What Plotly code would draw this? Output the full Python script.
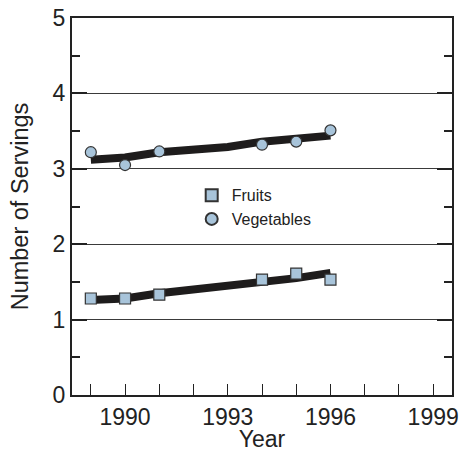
import plotly.graph_objects as go

years_pts = [1989, 1990, 1991, 1994, 1995, 1996]
fruits_pts = [1.28, 1.28, 1.33, 1.53, 1.61, 1.53]
veg_pts = [3.22, 3.05, 3.23, 3.32, 3.36, 3.51]

years_line = [1989, 1990, 1991, 1993, 1994, 1995, 1996]
fruits_line = [1.26, 1.28, 1.35, 1.44, 1.51, 1.55, 1.62]
veg_line = [3.12, 3.15, 3.22, 3.29, 3.36, 3.39, 3.44]

x_ticks = [1990, 1993, 1996, 1999]

FONT = "Liberation Sans, Arial, sans-serif"
FILL = "#a8c4da"
EDGE = "#333333"
LINE = "#1e1c1c"

fig = go.Figure()
fig.add_trace(go.Scatter(x=years_line, y=fruits_line, mode="lines",
                         line=dict(color=LINE, width=8), showlegend=False, hoverinfo="skip"))
fig.add_trace(go.Scatter(x=years_line, y=veg_line, mode="lines",
                         line=dict(color=LINE, width=8), showlegend=False, hoverinfo="skip"))
fig.add_trace(go.Scatter(x=years_pts, y=fruits_pts, mode="markers", name="Fruits",
                         marker=dict(symbol="square", size=11, color=FILL,
                                     line=dict(color=EDGE, width=1.2))))
fig.add_trace(go.Scatter(x=years_pts, y=veg_pts, mode="markers", name="Vegetables",
                         marker=dict(symbol="circle", size=11, color=FILL,
                                     line=dict(color=EDGE, width=1.2))))

fig.update_layout(
    width=460, height=452,
    margin=dict(l=72, r=8, t=18, b=57, autoexpand=False),
    paper_bgcolor="white", plot_bgcolor="white",
    font=dict(family=FONT, color="#222222", size=23),
    legend=dict(x=0.315, y=0.575, xanchor="left", yanchor="top",
                font=dict(size=16, family=FONT, color="#222222"),
                bgcolor="rgba(0,0,0,0)", itemsizing="constant",
                tracegroupgap=0),
    xaxis=dict(
        automargin=False, ticklabeloverflow="allow",
        range=[1988.45, 1999.55], tickmode="array", tickvals=x_ticks,
        ticktext=[str(v) for v in x_ticks],
        ticks="inside", ticklen=11, tickwidth=1, tickcolor="#222",
        minor=dict(dtick=1, tick0=1990, ticks="inside", ticklen=11, tickcolor="#222", showgrid=False),
        showline=True, linecolor="#222", linewidth=2, mirror=True,
        showgrid=False, zeroline=False,
        title=dict(text="Year", font=dict(size=23), standoff=0),
        tickfont=dict(size=23),
    ),
    yaxis=dict(
        automargin=False, ticklabeloverflow="allow",
        range=[0, 5], dtick=1, tick0=0,
        ticks="inside", ticklen=15, tickwidth=1.5, tickcolor="#222",
        minor=dict(dtick=0.5, tick0=0, ticks="inside", ticklen=8, tickcolor="#222", showgrid=False),
        showline=True, linecolor="#222", linewidth=2, mirror="ticks",
        showgrid=True, gridcolor="#3a3a3a", gridwidth=1, zeroline=False,
        title=dict(text="Number of Servings", font=dict(size=23.5), standoff=17),
        tickfont=dict(size=23),
    ),
)

fig.write_html("out.html", config={"displayModeBar": False},
               post_script="document.body.style.margin='0';")
